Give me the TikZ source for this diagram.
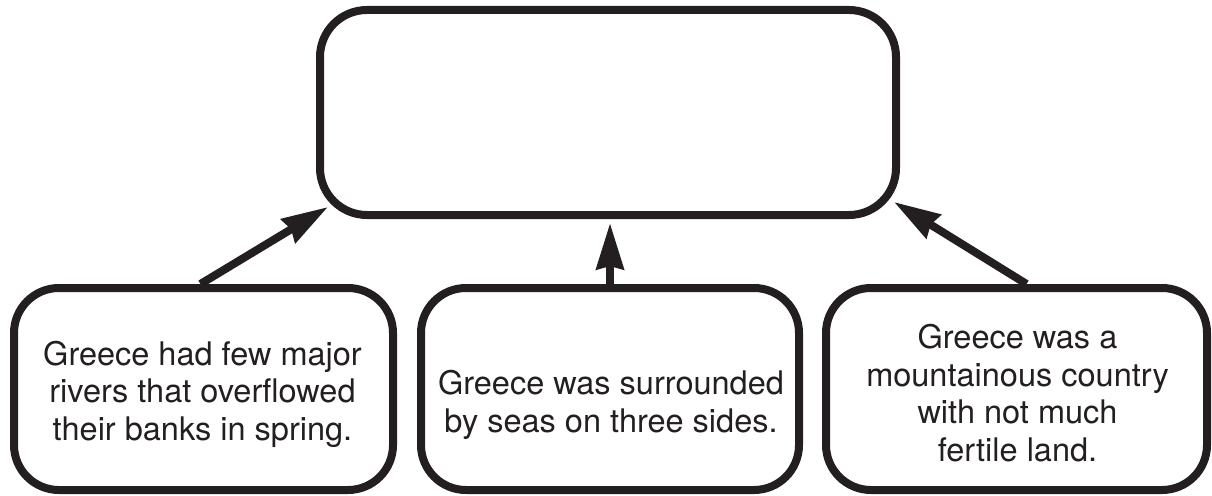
\documentclass[tikz,border=0pt]{standalone}
\usepackage{fontspec}
\setmainfont{TeX Gyre Heros}
\usetikzlibrary{arrows.meta,calc}
\definecolor{ink}{HTML}{231F20}
\begin{document}
\begin{tikzpicture}[x=1pt,y=-1pt,
  box/.style={draw=ink, line width=8pt, rounded corners=45pt, inner sep=0pt,
              minimum height=202pt, minimum width=379pt},
  txt/.style={text=ink, align=center, inner sep=0pt,
              font=\fontsize{32.5}{37.5}\selectfont},
  arr/.style={draw=ink, line width=8pt,
              -{Stealth[length=46pt,width=27pt,inset=3pt]}}]
\useasboundingbox (0,0) rectangle (1212,495);

% central (empty) box
\node[box, minimum width=576pt, minimum height=205pt, rounded corners=47pt]
  (top) at (608,112.5) {};

% three cause boxes
\node[box] (b1) at (203.5,389) {};
\node[box, minimum width=378pt] (b2) at (610,389) {};
\node[box, minimum width=381pt] (b3) at (1016.5,389) {};

\node[txt] (t1) at ($(b1.center)+(-1pt,-5pt)$)
  {Greece had few major\\rivers that overflowed\\their banks in spring.};
\node[txt] (t2) at ($(b2.center)+(1pt,-16pt)$)
  {Greece was surrounded\\by seas on three sides.};
\node[txt] (t3) at ($(b3.center)+(1pt,-4pt)$)
  {Greece was a\\mountainous country\\with not much\\fertile land.};

% arrow ends on the central box
\coordinate (e1) at ($(top.south west)+(12pt,12pt)$);
\coordinate (e2) at ($(b2.north |- top.south)+(0pt,-4pt)$);
\coordinate (e3) at ($(top.south east)+(-6pt,17pt)$);
\coordinate (s1) at ($(b1.north)+(-3pt,0pt)$);
\coordinate (s3) at ($(b3.north)+(10pt,0pt)$);

\draw[arr] (s1) -- (e1);
\draw[arr] (b2.north) -- (e2);
\draw[arr] (s3) -- (e3);
\end{tikzpicture}
\end{document}
